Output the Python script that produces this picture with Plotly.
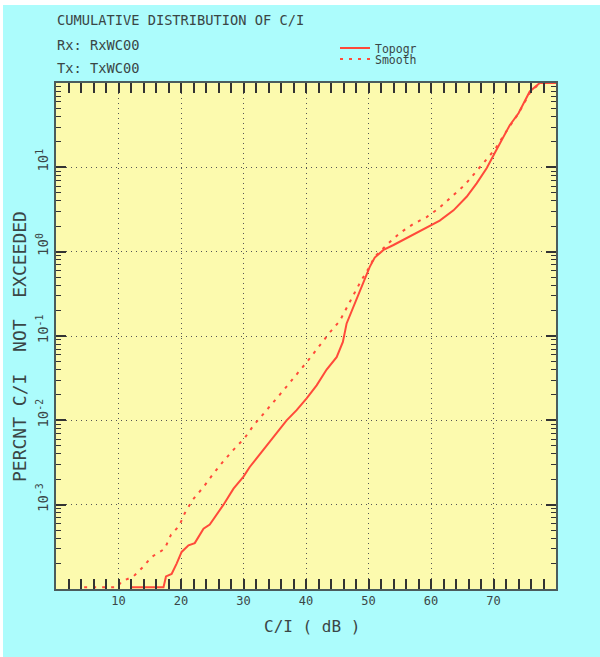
import plotly.graph_objects as go

# ---------------- data ----------------
FLOOR = 1.05e-4  # curves resting on the bottom of the log axis

topogr_x = [12.0, 17.2, 17.6, 18.5, 19.3, 20.1, 21.2, 22.2, 23.6, 24.6, 26.8, 28.4,
            30.0, 31.0, 33.2, 35.3, 36.9, 38.5, 40.1, 41.7, 43.3, 44.9, 45.9, 46.5,
            47.6, 48.6, 49.4, 50.2, 51.0, 52.4, 54.0, 56.1, 58.2, 59.8, 61.4, 63.6,
            65.7, 67.3, 68.9, 70.2, 71.3, 72.6, 74.0, 75.0, 75.8, 77.4, 80.0]
topogr_y = [FLOOR, FLOOR, 1.41e-4, 1.51e-4, 2.0e-4, 2.75e-4, 3.3e-4, 3.5e-4, 5.2e-4,
            5.8e-4, 1.0e-3, 1.55e-3, 2.15e-3, 2.8e-3, 4.5e-3, 7.1e-3, 1.0e-2, 1.32e-2,
            1.82e-2, 2.6e-2, 4.0e-2, 5.6e-2, 8.5e-2, 0.141, 0.224, 0.339, 0.479, 0.661,
            0.851, 1.05, 1.20, 1.45, 1.74, 2.0, 2.34, 3.09, 4.47, 6.46, 9.77, 14.8,
            20.9, 31.6, 43.7, 60.3, 79.4, 100.0, 100.0]

smooth_x = [4.5, 9.8, 10.5, 12.4, 13.9, 15.3, 17.4, 18.4, 19.7, 20.6, 21.9, 23.6, 25.0,
            26.6, 28.3, 30.2, 31.6, 33.4, 35.3, 37.0, 38.7, 40.4, 42.0, 43.8, 45.4,
            46.5, 47.7, 48.7, 50.0, 51.0, 53.2, 55.0, 57.2, 59.3, 61.2, 63.0, 65.4,
            67.0, 68.9, 70.2, 72.0, 74.0, 75.8, 77.4, 80.0]
smooth_y = [FLOOR, FLOOR, 1.23e-4, 1.41e-4, 1.82e-4, 2.4e-4, 3.0e-4, 4.4e-4, 5.6e-4,
            7.9e-4, 1.15e-3, 1.62e-3, 2.24e-3, 3.16e-3, 4.4e-3, 6.2e-3, 8.7e-3, 1.23e-2,
            1.82e-2, 2.57e-2, 3.6e-2, 5.2e-2, 7.4e-2, 0.110, 0.151, 0.214, 0.309,
            0.437, 0.631, 0.871, 1.26, 1.66, 2.14, 2.57, 3.24, 4.27, 6.17, 8.51, 12.3,
            16.2, 26.3, 43.7, 75.9, 100.0, 100.0]

x_tickvals = [10, 20, 30, 40, 50, 60, 70]
x_ticktext = ["10", "20", "30", "40", "50", "60", "70"]
y_tickvals = [1e-3, 1e-2, 1e-1, 1, 10]
y_ticktext = ["10<sup>-3</sup>", "10<sup>-2</sup>", "10<sup>-1</sup>",
              "10<sup>0</sup>", "10<sup>1</sup>"]
decades = [-4, -3, -2, -1, 0, 1]
mantissas = [2, 3, 4, 5, 6, 7, 8, 9]

title_text = "CUMULATIVE DISTRIBUTION OF C/I"
rx_text = "Rx: RxWC00"
tx_text = "Tx: TxWC00"
x_title = "C/I ( dB )"
y_title = "PERCNT C/I  NOT  EXCEEDED"

# ---------------- styling ----------------
W, H = 600, 657
L, R, T, B = 56, 556, 83, 589
CYAN = "#acfcfc"
YELLOW = "#fcfaae"
RED = "#ff4a3a"
TXT = "#3a4646"
AX = "#4a5c5c"
MONO = "DejaVu Sans Mono"
Y_RANGE = [-4, 2]

# minor log tick positions of the y axis (2..9 within every decade)
y_minor = [m * 10.0 ** d for d in decades for m in mantissas]


def px(xp):
    return (xp - L) / (R - L)


def py(yp):
    return (B - yp) / (B - T)


fig = go.Figure()
fig.add_trace(go.Scatter(x=topogr_x, y=topogr_y, mode="lines", name="Topogr",
                         line=dict(color=RED, width=2), legend="legend"))
fig.add_trace(go.Scatter(x=smooth_x, y=smooth_y, mode="lines", name="Smooth",
                         line=dict(color=RED, width=2, dash="3px,6px"),
                         legend="legend2", yaxis="y2"))

axis_common = dict(
    showline=True, linecolor=AX, linewidth=2, mirror="allticks",
    ticks="inside", ticklen=10, tickwidth=1.5, tickcolor="#333",
    showgrid=True, gridcolor="#555", gridwidth=1, griddash="1px,4px",
    zeroline=False,
)

fig.update_layout(
    xaxis=dict(range=[0, 80], tickmode="array", tickvals=x_tickvals,
               ticktext=x_ticktext,
               tickfont=dict(family=MONO, size=12, color=TXT),
               minor=dict(ticks="inside", dtick=2, tick0=0, ticklen=5,
                          tickcolor="#333", showgrid=False),
               **axis_common),
    yaxis=dict(type="log", range=Y_RANGE, tickmode="array", tickvals=y_tickvals,
               ticktext=y_ticktext, tickangle=-90, ticklabelshift=-5,
               tickfont=dict(family=MONO, size=14, color=TXT),
               **axis_common),
    yaxis2=dict(type="log", range=Y_RANGE, overlaying="y", anchor="x", side="left",
                tickmode="array", tickvals=y_minor, showticklabels=False,
                ticks="inside", ticklen=5, tickwidth=1.2, tickcolor="#333",
                showline=False, mirror="ticks", showgrid=False, zeroline=False),
)

ann_font = dict(family=MONO, size=13.7, color=TXT)
annotations = [
    dict(text=title_text, x=px(55), y=py(20), xanchor="left", yanchor="middle",
         font=ann_font),
    dict(text=rx_text, x=px(55), y=py(45), xanchor="left", yanchor="middle",
         font=ann_font),
    dict(text=tx_text, x=px(55), y=py(68), xanchor="left", yanchor="middle",
         font=ann_font),
    dict(text=x_title, x=px(312), y=py(626), xanchor="center", yanchor="middle",
         font=dict(family=MONO, size=16, color=TXT)),
    dict(text=y_title, x=px(19), y=py(347), xanchor="center", yanchor="middle",
         textangle=-90, font=dict(family=MONO, size=18, color=TXT)),
]
for a in annotations:
    a.update(xref="paper", yref="paper", showarrow=False)

leg_font = dict(family=MONO, size=11.5, color=TXT)
fig.update_layout(
    width=W, height=H,
    margin=dict(l=L, r=W - R, t=T, b=H - B, pad=0),
    paper_bgcolor=CYAN, plot_bgcolor=YELLOW,
    annotations=annotations,
    showlegend=True,
    legend=dict(x=px(335), y=py(48), xanchor="left", yanchor="middle",
                bgcolor="rgba(0,0,0,0)", font=leg_font, itemwidth=30),
    legend2=dict(x=px(335), y=py(59), xanchor="left", yanchor="middle",
                 bgcolor="rgba(0,0,0,0)", font=leg_font, itemwidth=30),
    shapes=[
        dict(type="rect", xref="paper", yref="paper", x0=px(0), x1=px(3),
             y0=py(0), y1=py(H), fillcolor="white", line_width=0, layer="below"),
        dict(type="rect", xref="paper", yref="paper", x0=px(0), x1=px(W),
             y0=py(0), y1=py(5), fillcolor="white", line_width=0, layer="below"),
    ],
)

fig.write_html("out.html", config={"displayModeBar": False},
               post_script="document.body.style.margin='0';document.body.style.overflow='hidden';")
